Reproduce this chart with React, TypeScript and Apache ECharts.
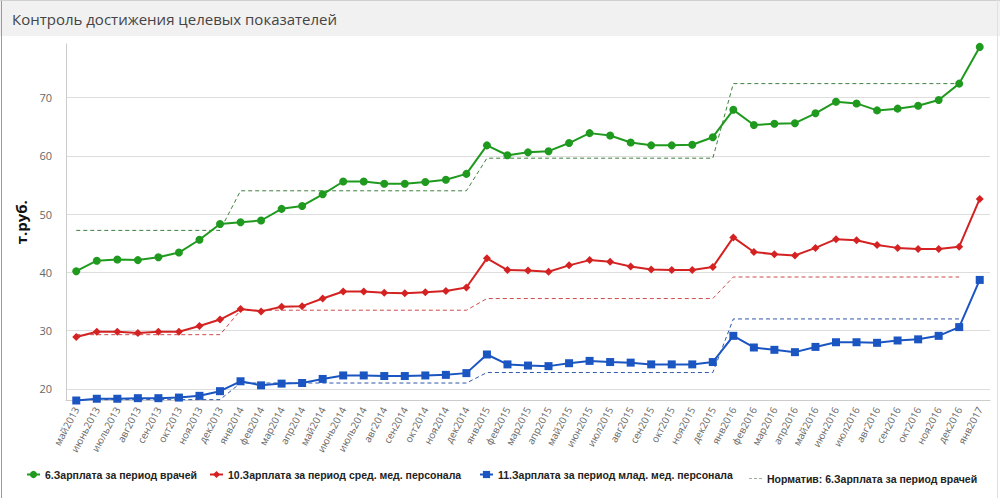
import React, { useEffect, useRef } from "react";
import * as echarts from "echarts";

const categories = [
  "май2013","июнь2013","июль2013","авг2013","сен2013","окт2013","ноя2013","дек2013",
  "янв2014","фев2014","мар2014","апр2014","май2014","июнь2014","июль2014","авг2014","сен2014","окт2014","ноя2014","дек2014",
  "янв2015","фев2015","мар2015","апр2015","май2015","июн2015","июл2015","авг2015","сен2015","окт2015","ноя2015","дек2015",
  "янв2016","фев2016","мар2016","апр2016","май2016","июн2016","июл2016","авг2016","сен2016","окт2016","ноя2016","дек2016",
  "янв2017"
];

const doctors = [40.2, 42.0, 42.2, 42.1, 42.6, 43.4, 45.6, 48.3, 48.6, 48.9, 50.9, 51.4, 53.4, 55.6, 55.6, 55.2, 55.2, 55.5, 55.9, 56.9, 61.8, 60.1, 60.6, 60.8, 62.2, 63.9, 63.5, 62.3, 61.8, 61.8, 61.9, 63.2, 67.9, 65.3, 65.5, 65.6, 67.3, 69.3, 69.0, 67.8, 68.1, 68.6, 69.6, 72.4, 78.7];
const middle = [28.9, 29.8, 29.8, 29.6, 29.8, 29.8, 30.8, 31.9, 33.7, 33.3, 34.1, 34.2, 35.5, 36.7, 36.7, 36.5, 36.4, 36.6, 36.8, 37.4, 42.4, 40.4, 40.3, 40.1, 41.2, 42.1, 41.8, 41.0, 40.5, 40.4, 40.4, 40.9, 46.0, 43.5, 43.1, 42.9, 44.2, 45.7, 45.5, 44.7, 44.2, 44.0, 44.0, 44.4, 52.6];
const junior = [18.0, 18.3, 18.3, 18.4, 18.4, 18.5, 18.8, 19.6, 21.3, 20.6, 20.9, 21.0, 21.7, 22.3, 22.3, 22.2, 22.2, 22.3, 22.4, 22.7, 25.9, 24.2, 24.0, 23.9, 24.4, 24.8, 24.6, 24.5, 24.2, 24.2, 24.2, 24.6, 29.1, 27.1, 26.7, 26.3, 27.2, 28.0, 28.0, 27.9, 28.3, 28.5, 29.1, 30.6, 38.7];

const normDoctors = [47.2, 47.2, 47.2, 47.2, 47.2, 47.2, 47.2, 47.2, 54.0, 54.0, 54.0, 54.0, 54.0, 54.0, 54.0, 54.0, 54.0, 54.0, 54.0, 54.0, 59.6, 59.6, 59.6, 59.6, 59.6, 59.6, 59.6, 59.6, 59.6, 59.6, 59.6, 59.6, 72.4, 72.4, 72.4, 72.4, 72.4, 72.4, 72.4, 72.4, 72.4, 72.4, 72.4, 72.4, null];
const normMiddle = [29.3, 29.3, 29.3, 29.3, 29.3, 29.3, 29.3, 29.3, 33.5, 33.5, 33.5, 33.5, 33.5, 33.5, 33.5, 33.5, 33.5, 33.5, 33.5, 33.5, 35.5, 35.5, 35.5, 35.5, 35.5, 35.5, 35.5, 35.5, 35.5, 35.5, 35.5, 35.5, 39.2, 39.2, 39.2, 39.2, 39.2, 39.2, 39.2, 39.2, 39.2, 39.2, 39.2, 39.2, null];
const normJunior = [18.15, 18.15, 18.15, 18.15, 18.15, 18.15, 18.15, 18.15, 21.0, 21.0, 21.0, 21.0, 21.0, 21.0, 21.0, 21.0, 21.0, 21.0, 21.0, 21.0, 22.8, 22.8, 22.8, 22.8, 22.8, 22.8, 22.8, 22.8, 22.8, 22.8, 22.8, 22.8, 32.0, 32.0, 32.0, 32.0, 32.0, 32.0, 32.0, 32.0, 32.0, 32.0, 32.0, 32.0, null];

const N1 = "6.Зарплата за период врачей";
const N2 = "10.Зарплата за период сред. мед. персонала";
const N3 = "11.Зарплата за период млад. мед. персонала";
const N4 = "Норматив: 6.Зарплата за период врачей";
const N5 = "Норматив: 10.Зарплата за период сред. мед. персонала";
const N6 = "Норматив: 11.Зарплата за период млад. мед. персонала";

export default function App() {
  const ref = useRef<HTMLDivElement>(null);
  useEffect(() => {
    if (!ref.current) return;
    const chart = echarts.init(ref.current, undefined, { renderer: "svg" });
    const legendText = { fontFamily: "Liberation Sans", fontWeight: "bold", fontSize: 10.5, color: "#222" };
    const mkLegend = (name: any, left: number, extra: any = {}) => ({
      data: [name], left, top: 469, itemWidth: 13, itemHeight: 9, itemGap: 5, padding: 0,
      textStyle: legendText, selectedMode: false, ...extra,
    });
    chart.setOption({
      animation: false,
      backgroundColor: "#fff",
      graphic: [
        { type: "rect", left: 0, top: 0, shape: { x: 0, y: 0, width: 1000, height: 36 }, style: { fill: "#f1f1f1" }, z: -1 },
        { type: "line", shape: { x1: 1.5, y1: 0, x2: 1.5, y2: 498 }, style: { stroke: "#9a9a9a", lineWidth: 1 } },
        { type: "line", shape: { x1: 0, y1: 0.5, x2: 1000, y2: 0.5 }, style: { stroke: "#d0d0d0", lineWidth: 1 } },
        { type: "line", shape: { x1: 997.5, y1: 0, x2: 997.5, y2: 498 }, style: { stroke: "#e0e0e0", lineWidth: 1 } },
        { type: "text", x: 12, y: 19, style: { text: "Контроль достижения целевых показателей", fill: "#444", font: "15px 'Open Sans'", verticalAlign: "middle" } },
      ],
      legend: [
        mkLegend(N1, 26),
        mkLegend(N2, 209),
        mkLegend(N3, 479),
        mkLegend(
          { name: N4, icon: "path://M0 0h3v1H0zM5 0h3v1H5zM10 0h3v1h-3z", itemStyle: { color: "#9bb29b" } },
          749,
          { itemHeight: 1.5, top: 473 }
        ),
      ],
      grid: { left: 66, right: 10, top: 44, bottom: 97.5, containLabel: false },
      xAxis: {
        type: "category",
        data: categories,
        boundaryGap: true,
        axisLine: { lineStyle: { color: "#ccc" } },
        axisTick: { alignWithLabel: true, length: 5, lineStyle: { color: "#ccc" } },
        axisLabel: { rotate: 62, interval: 0, fontSize: 10, color: "#666", margin: 7, fontFamily: "Open Sans" },
      },
      yAxis: {
        type: "value",
        min: 18,
        max: 79.2,
        name: "т.руб.",
        nameLocation: "middle",
        nameRotate: 90,
        nameGap: 29,
        nameTextStyle: { fontSize: 15, fontWeight: "bold", color: "#111", fontFamily: "Open Sans" },
        axisLine: { show: true, lineStyle: { color: "#ccc" } },
        axisTick: { show: false },
        axisLabel: {
          showMinLabel: false, showMaxLabel: false, fontSize: 11, color: "#666", margin: 14, fontFamily: "Open Sans",
          formatter: (v: number) => (Math.abs(v % 10) < 1e-6 ? String(v) : ""),
        },
        splitLine: { showMinLine: false, showMaxLine: false, lineStyle: { color: "#ddd" } },
      },
      series: [
        { name: N4, type: "line", data: normDoctors, symbol: "none", color: "#4f8a4f", lineStyle: { width: 1, type: [4, 3], color: "#3f7f3f" }, z: 1 },
        { name: N5, type: "line", data: normMiddle, symbol: "none", color: "#d05a5a", lineStyle: { width: 1, type: [4, 3], color: "#cc4a4a" }, z: 1 },
        { name: N6, type: "line", data: normJunior, symbol: "none", color: "#3a5fa8", lineStyle: { width: 1, type: [4, 3], color: "#2f58a8" }, z: 1 },
        { name: N1, type: "line", data: doctors, symbol: "circle", symbolSize: 8, color: "#1f9a1f", lineStyle: { width: 2 }, z: 3 },
        { name: N2, type: "line", data: middle, symbol: "diamond", symbolSize: 8, color: "#d42222", lineStyle: { width: 2 }, z: 3 },
        { name: N3, type: "line", data: junior, symbol: "rect", symbolSize: 8, color: "#1a55c2", lineStyle: { width: 2 }, z: 3 },
      ],
    });
    return () => chart.dispose();
  }, []);
  return <div ref={ref} style={{ position: "fixed", left: 0, top: 0, width: 1000, height: 498 }} />;
}
